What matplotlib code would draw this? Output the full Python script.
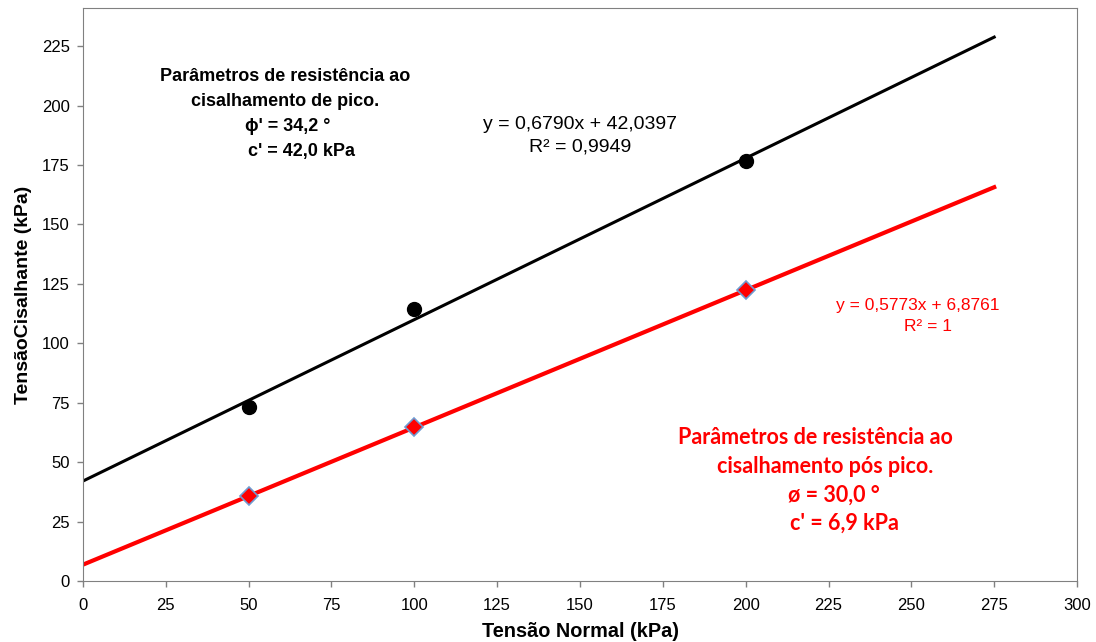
import numpy as np
import matplotlib.pyplot as plt

plt.rcParams['font.family'] = ['Liberation Sans', 'DejaVu Sans']

# Dados
tensao_normal = [50, 100, 200]
pico = [73.3, 114.4, 176.8]
pos_pico = [35.7, 64.6, 122.3]

# Linhas de tendência (coeficientes mostrados no gráfico)
a_pico, b_pico = 0.6790, 42.0397
a_pos, b_pos = 0.5773, 6.8761
x_linha = np.array([0, 275])

fig = plt.figure(figsize=(10.96, 6.42), dpi=100)
ax = fig.add_axes([0.0757, 0.095, 0.907, 0.8925])

ax.plot(x_linha, a_pico * x_linha + b_pico, color='black', lw=2.2, zorder=2)
ax.plot(x_linha, a_pos * x_linha + b_pos, color='#ff0000', lw=3, zorder=2)
ax.plot(tensao_normal, pico, 'o', color='black', ms=10, zorder=3)
ax.plot(tensao_normal, pos_pico, 'D', mfc='#ff0000', mec='#6f9bd1', mew=1.2,
        ms=9, zorder=3)

ax.set_xlim(0, 300)
ax.set_ylim(0, 241)
ax.set_xticks(range(0, 301, 25))
ax.set_yticks(range(0, 226, 25))
ax.tick_params(direction='out', length=4.5, width=1, color='#808080',
               labelsize=12, pad=5)
ax.tick_params(axis='x', pad=8)
for s in ax.spines.values():
    s.set_color('#808080')

ax.set_xlabel('Tensão Normal (kPa)', fontsize=14.3, fontweight='bold', labelpad=6)
ax.set_ylabel('TensãoCisalhante (kPa)', fontsize=14, fontweight='bold', labelpad=7)

# Textos - pico
kw = dict(fontsize=13, fontweight='bold', color='black', va='center')
ax.text(61, 212, 'Parâmetros de resistência ao', ha='center', **kw)
ax.text(61, 201.5, 'cisalhamento de pico.', ha='center', **kw)
ax.text(48.9, 191, "ϕ' = 34,2 °", ha='left', **kw)
ax.text(49.8, 180.5, "c' = 42,0 kPa", ha='left', **kw)

ax.text(150, 192, 'y = 0,6790x + 42,0397', ha='center', va='center', fontsize=14)
ax.text(150, 182.5, 'R² = 0,9949', ha='center', va='center', fontsize=14)

# Textos - pós pico
ax.text(252, 116, 'y = 0,5773x + 6,8761', ha='center', va='center', fontsize=12.5,
        color='#ff0000')
ax.text(255, 107, 'R² = 1', ha='center', va='center', fontsize=12.5, color='#ff0000')

kw2 = dict(fontsize=15.5, fontweight='bold', color='#ff0000', va='center',
           family=['Lato', 'DejaVu Sans'])
ax.text(221, 60.2, 'Parâmetros de resistência ao', ha='center', **kw2)
ax.text(224, 48, 'cisalhamento pós pico.', ha='center', **kw2)
ax.text(212.7, 36.2, 'ø = 30,0 °', ha='left', **kw2)
ax.text(213.3, 24.4, "c' = 6,9 kPa", ha='left', **kw2)

fig.savefig('out.png', dpi=100)
